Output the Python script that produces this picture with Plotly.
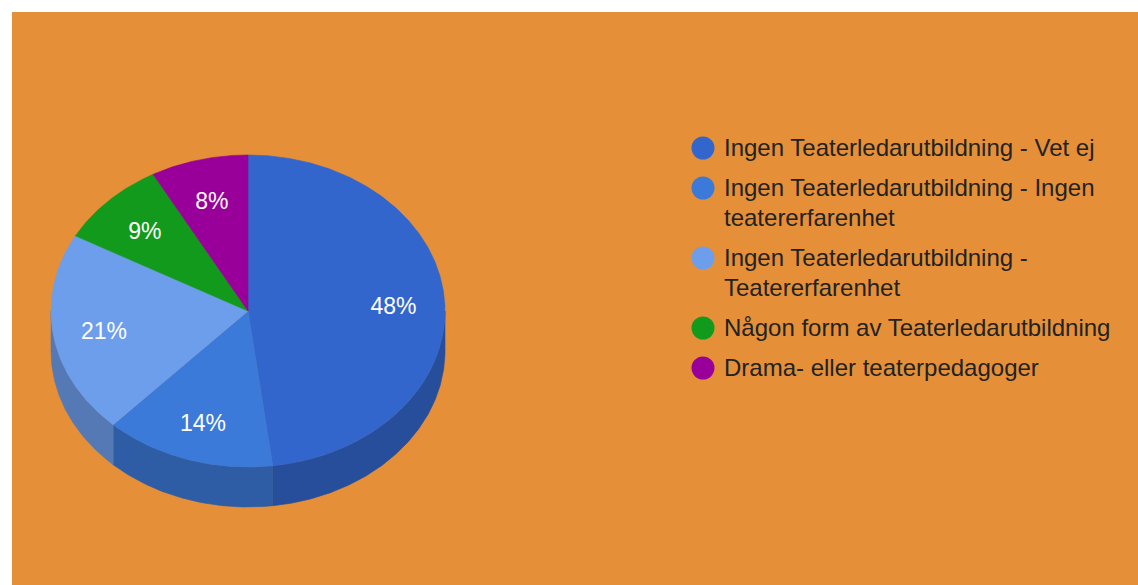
import math
import textwrap
import plotly.graph_objects as go

# ---- data ----
categories = [
    "Ingen Teaterledarutbildning - Vet ej",
    "Ingen Teaterledarutbildning - Ingen teatererfarenhet",
    "Ingen Teaterledarutbildning - Teatererfarenhet",
    "Någon form av Teaterledarutbildning",
    "Drama- eller teaterpedagoger",
]
values = [48, 14, 21, 9, 8]

# ---- style ----
top_colors = ["#3366cc", "#3b7ad9", "#6d9eeb", "#129a1d", "#990099"]
side_colors = ["#264e9b", "#2e5ca5", "#5579b4", "#0c6e14", "#6e006e"]
bg = "#e59038"
W, H = 1138, 585
L, T = 12, 12  # orange area top-left
cx, cy, rx, ry, depth = 248, 311, 197, 156, 40
label_r = 0.74
label_dy = 4
font = "Liberation Sans, Arial, sans-serif"


def pt(theta_deg, dy=0.0, f=1.0):
    t = math.radians(theta_deg)
    return cx + f * rx * math.sin(t), cy - f * ry * math.cos(t) + dy


def arc(a0, a1, dy=0.0, n=None):
    if n is None:
        n = max(2, int(abs(a1 - a0) * 2) + 1)
    xs, ys = [], []
    for i in range(n):
        a = a0 + (a1 - a0) * i / (n - 1)
        x, y = pt(a, dy)
        xs.append(x)
        ys.append(y)
    return xs, ys


total = sum(values)
bounds = [0.0]
for v in values:
    bounds.append(bounds[-1] + v / total * 360.0)

fig = go.Figure()

# side walls (front half: 90..270 deg clockwise from top)
for i, v in enumerate(values):
    a0, a1 = bounds[i], bounds[i + 1]
    s0, s1 = max(a0, 90.0), min(a1, 270.0)
    if s1 <= s0:
        continue
    tx, ty = arc(s0, s1)
    bx, by = arc(s1, s0, dy=depth)
    fig.add_trace(go.Scatter(
        x=tx + bx + [tx[0]], y=ty + by + [ty[0]], mode="lines",
        fill="toself", fillcolor=side_colors[i],
        line=dict(color=side_colors[i], width=0.6),
        hoverinfo="skip", showlegend=False))

# top faces
for i, v in enumerate(values):
    a0, a1 = bounds[i], bounds[i + 1]
    ax, ay = arc(a0, a1)
    fig.add_trace(go.Scatter(
        x=[cx] + ax + [cx], y=[cy] + ay + [cy], mode="lines",
        fill="toself", fillcolor=top_colors[i],
        line=dict(color=top_colors[i], width=0.6),
        hoverinfo="skip", showlegend=False))

# percentage labels
lx, ly, lt = [], [], []
for i, v in enumerate(values):
    mid = (bounds[i] + bounds[i + 1]) / 2
    x, y = pt(mid, f=label_r)
    lx.append(x)
    ly.append(y + label_dy)
    lt.append(f"{round(v / total * 100)}%")
fig.add_trace(go.Scatter(
    x=lx, y=ly, text=lt, mode="text",
    textfont=dict(family=font, size=23, color="#ffffff"),
    hoverinfo="skip", showlegend=False))

# legend (dots + wrapped text)
leg_x_dot, leg_x_text = 703, 725
leg_y = 147
line_h, item_gap = 30, 40
dot_x, dot_y = [], []
annotations = []
for i, c in enumerate(categories):
    lines = textwrap.wrap(c, 36, break_on_hyphens=False)
    dot_x.append(leg_x_dot)
    dot_y.append(leg_y + 1)
    for j, ln in enumerate(lines):
        annotations.append(dict(
            x=leg_x_text, y=leg_y + j * line_h, xref="x", yref="y",
            text=ln, showarrow=False, xanchor="left", yanchor="middle",
            xshift=-3,
            font=dict(family=font, size=24, color="#222222")))
    leg_y += (len(lines) - 1) * line_h + item_gap

fig.add_trace(go.Scatter(
    x=dot_x, y=dot_y, mode="markers",
    marker=dict(size=23, color=top_colors, line=dict(width=0)),
    hoverinfo="skip", showlegend=False))

fig.update_layout(
    width=W, height=H,
    margin=dict(l=L, t=T, r=0, b=0, pad=0),
    paper_bgcolor="#ffffff", plot_bgcolor=bg,
    xaxis=dict(range=[L, W], visible=False, fixedrange=True),
    yaxis=dict(range=[H, T], visible=False, fixedrange=True),
    annotations=annotations,
    showlegend=False,
    hovermode=False,
)

fig.write_html(
    "out.html",
    config={"displayModeBar": False, "staticPlot": True},
    post_script="document.body.style.margin='0';document.body.style.overflow='hidden';",
)
